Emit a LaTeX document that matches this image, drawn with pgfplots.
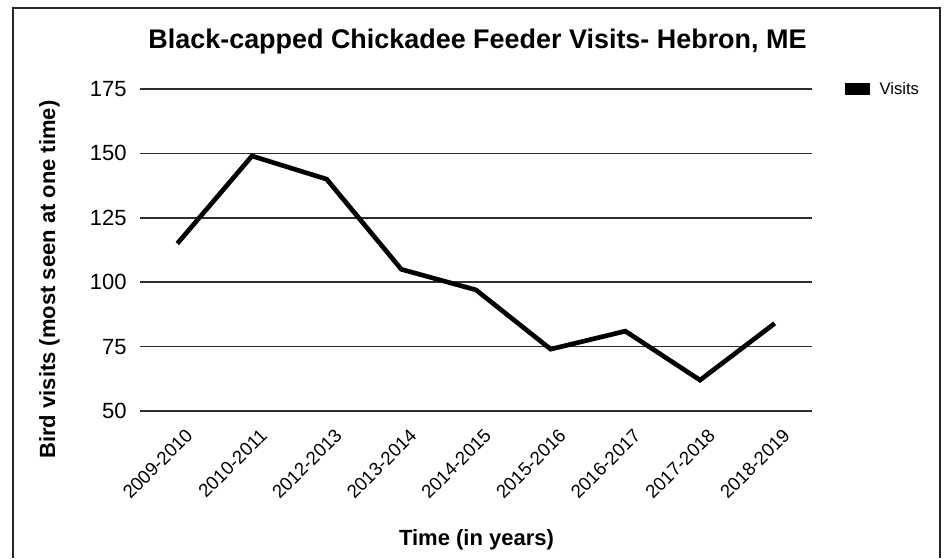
\documentclass[border=0pt]{standalone}
\usepackage{fontspec}
\setmainfont{Liberation Sans}
\usepackage{pgfplots}
\pgfplotsset{compat=1.18}

\pgfplotstableread{
idx visits
0 115
1 149
2 140
3 105
4 97
5 74
6 81
7 62
8 84
}\visitsdata

\begin{document}
\begin{tikzpicture}[x=0.75pt,y=0.75pt]
\path[use as bounding box] (0,0) rectangle (945,558);
% outer frame (open at the bottom)
\draw[line width=2pt, color=black!85] (13,0) -- (13,550) -- (940,550) -- (940,0);

\begin{axis}[
  at={(105pt,110.25pt)}, anchor=south west,
  scale only axis, width=504pt, height=241.5pt,
  xmin=-0.5, xmax=8.5, ymin=50, ymax=175,
  xtick={0,...,8},
  xticklabels={2009-2010,2010-2011,2012-2013,2013-2014,2014-2015,2015-2016,2016-2017,2017-2018,2018-2019},
  ytick={50,75,...,175},
  ymajorgrids,
  grid style={line width=1.1pt, color=black!82},
  axis line style={draw=none},
  major tick length=0pt,
  /pgf/number format/assume math mode=true,
  yticklabel style={font=\fontsize{16.5}{19}\selectfont, xshift=-6.5pt},
  xticklabel style={font=\fontsize{14}{17}\selectfont, rotate=45, anchor=north east, xshift=-1.5pt, yshift=-9pt},
  legend style={at={(axis description cs:1.049,1)}, anchor=west, draw=none, fill=none, inner sep=0pt,
    font=\fontsize{12.5}{15}\selectfont},
  legend image code/.code={%
    \fill[black] (0pt,-3pt) rectangle (15pt,3pt);
    \path[draw=none, fill=none] (0pt,0pt) -- (22pt,0pt);},
  clip=false,
]
\addplot[black, line width=3.5pt, line join=miter] table[x=idx, y=visits] {\visitsdata};
\addlegendentry{Visits}
\end{axis}

\node[anchor=base, font=\bfseries\fontsize{20.2}{24}\selectfont] at (477.5,509.7) {Black-capped Chickadee Feeder Visits- Hebron, ME};
\node[anchor=base, font=\bfseries\fontsize{16.5}{19}\selectfont] at (476.5,13) {Time (in years)};
\node[anchor=base, rotate=90, font=\bfseries\fontsize{16.5}{19}\selectfont] at (55,278.5) {Bird visits (most seen at one time)};
\end{tikzpicture}
\end{document}
